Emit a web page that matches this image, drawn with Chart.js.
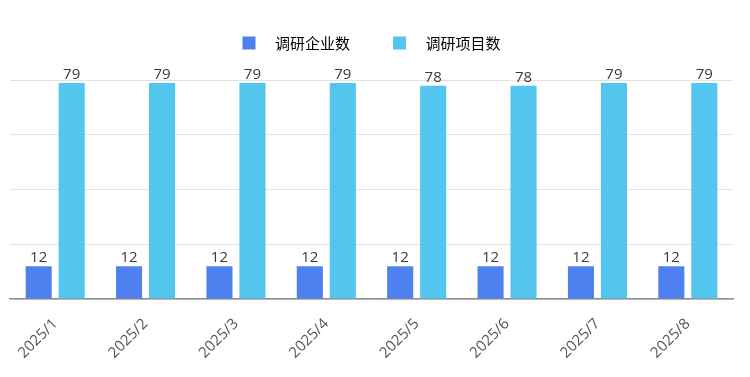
<!DOCTYPE html>
<html>
<head>
<meta charset="utf-8">
<script src="https://cdn.jsdelivr.net/npm/chart.js@4/dist/chart.umd.min.js"></script>
<style>
  html, body { margin: 0; padding: 0; background: #ffffff; }
  #wrap { width: 750px; height: 377px; }
</style>
</head>
<body>
<div id="wrap"><canvas id="c" width="750" height="377"></canvas></div>
<script>
const categories = ['2025/1', '2025/2', '2025/3', '2025/4', '2025/5', '2025/6', '2025/7', '2025/8'];
const seriesNames = ['调研企业数', '调研项目数'];
const enterprises = [12, 12, 12, 12, 12, 12, 12, 12];
const projects = [79, 79, 79, 79, 78, 78, 79, 79];
const yTicks = [0, 20, 40, 60, 80];

const colors = ['#4f80f0', '#52c6ef'];
const Y_TOP = 87.2;

function legendImage(color) {
  const cv = document.createElement('canvas');
  cv.width = 40; cv.height = 15;
  const g = cv.getContext('2d');
  g.fillStyle = color;
  g.fillRect(15, 1, 13, 13);
  return cv;
}

const valueLabels = {
  id: 'valueLabels',
  afterDatasetsDraw(chart) {
    const ctx = chart.ctx;
    ctx.save();
    ctx.font = '15px "Open Sans", "Noto Sans CJK SC", sans-serif';
    ctx.fillStyle = '#3a3a3a';
    ctx.textAlign = 'center';
    ctx.textBaseline = 'alphabetic';
    chart.data.datasets.forEach((ds, i) => {
      const meta = chart.getDatasetMeta(i);
      meta.data.forEach((el, j) => {
        ctx.fillText(String(ds.data[j]), el.x, el.y - 4);
      });
    });
    ctx.restore();
  }
};

new Chart(document.getElementById('c'), {
  type: 'bar',
  data: {
    labels: categories,
    datasets: [
      { label: seriesNames[0], data: enterprises, backgroundColor: colors[0], categoryPercentage: 0.73, barPercentage: 0.79 },
      { label: seriesNames[1], data: projects, backgroundColor: colors[1], categoryPercentage: 0.73, barPercentage: 0.79 }
    ]
  },
  options: {
    responsive: false,
    animation: false,
    devicePixelRatio: 1,
    layout: { padding: { top: 22.5, left: 10, right: 17, bottom: -1 } },
    plugins: {
      tooltip: { enabled: false },
      legend: {
        position: 'top',
        labels: {
          usePointStyle: true,
          pointStyleWidth: 40,
          padding: 13,
          color: '#333333',
          font: { size: 15, family: '"Noto Sans CJK SC", sans-serif' },
          generateLabels(chart) {
            return chart.data.datasets.map((ds, i) => ({
              text: ds.label + '\u3000',
              fillStyle: ds.backgroundColor,
              strokeStyle: ds.backgroundColor,
              lineWidth: 0,
              pointStyle: legendImage(ds.backgroundColor),
              hidden: false,
              datasetIndex: i
            }));
          }
        }
      }
    },
    scales: {
      x: {
        grid: { display: false, drawTicks: false },
        border: { display: true, color: '#8c8c8c', width: 1.5 },
        ticks: {
          minRotation: 45, maxRotation: 45,
          padding: 16,
          color: '#555555',
          font: { size: 15, family: '"Open Sans", sans-serif' }
        }
      },
      y: {
        min: 0,
        max: Y_TOP,
        afterBuildTicks(scale) {
          scale.ticks = yTicks.map(v => ({ value: v }));
        },
        grid: { color: '#e3e3e3', lineWidth: 1, drawTicks: false, tickLength: 0 },
        border: { display: false },
        ticks: { display: false }
      }
    }
  },
  plugins: [valueLabels]
});
</script>
</body>
</html>
